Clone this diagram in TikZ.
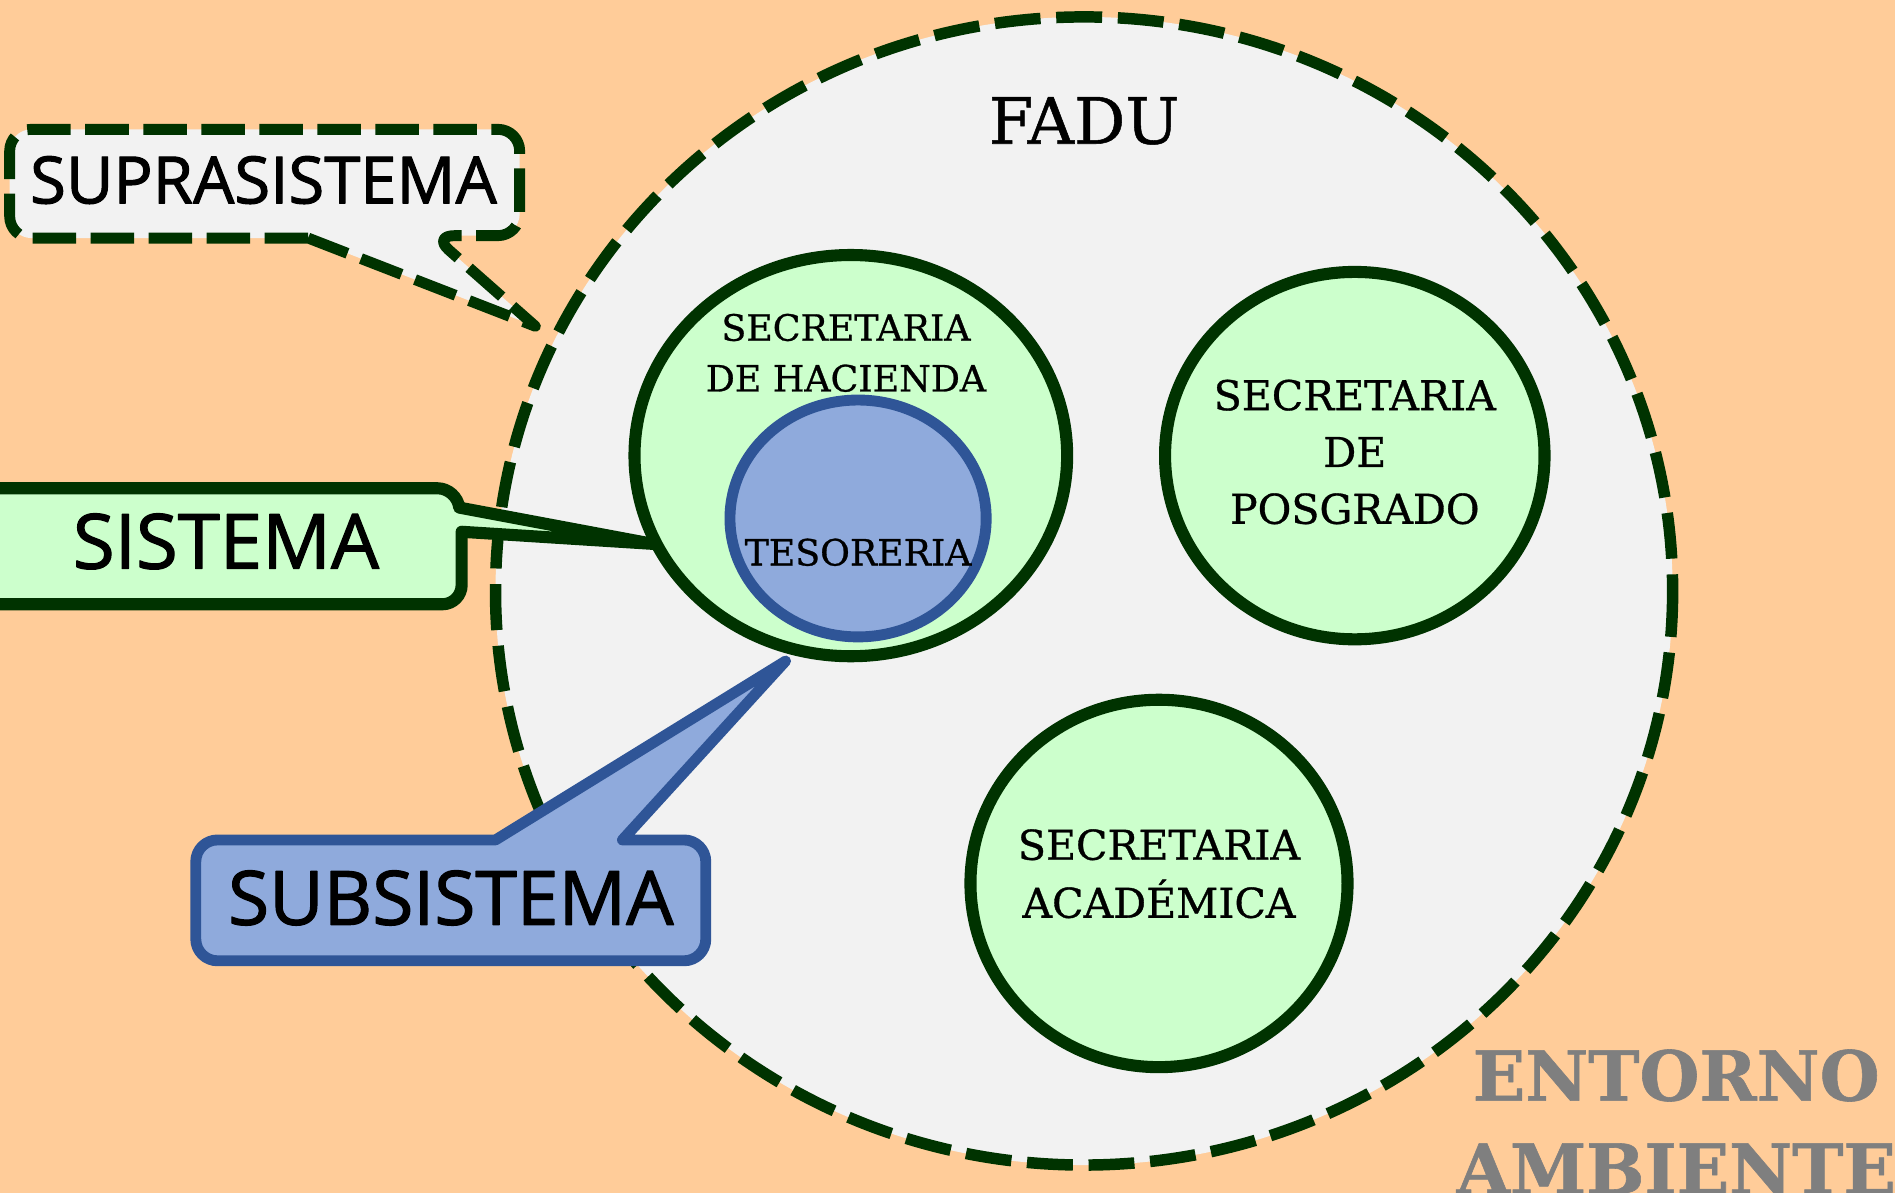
\documentclass[tikz,border=0pt]{standalone}
\usepackage{fontspec}
\setmainfont{DejaVu Serif}
\newfontfamily\slabfont[FakeBold=0.8]{DejaVu Serif}
\newfontfamily\calloutfont[FakeBold=1.6]{Open Sans}
\definecolor{bgpeach}{HTML}{FFCC99}
\definecolor{lightgray}{HTML}{F2F2F2}
\definecolor{palegreen}{HTML}{CCFFCC}
\definecolor{darkgreen}{HTML}{003300}
\definecolor{paleblue}{HTML}{8FAADC}
\definecolor{darkblue}{HTML}{2F5597}
\definecolor{envgray}{HTML}{7F7F7F}
\tikzset{
  dashline/.style={dash pattern=on 38pt off 13pt},
  greencircle/.style={draw=darkgreen, fill=palegreen, line width=10pt},
  bluecircle/.style={draw=darkblue, fill=paleblue, line width=9pt},
  calloutlabel/.style={font=\calloutfont\fontsize{#1}{#1}\selectfont, text=black, inner sep=0pt},
  slabtext/.style 2 args={font=\slabfont\fontsize{#1}{#2}\selectfont, text=black, align=center, inner sep=0pt},
}
\begin{document}
\begin{tikzpicture}[x=1pt,y=-1pt,line join=round,line cap=butt]
\useasboundingbox (0,0) rectangle (1568,987);
\fill[bgpeach] (0,0) rectangle (1568,987);

% FADU (suprasistema)
\draw[fill=lightgray, draw=darkgreen, line width=9.5pt, dashline] (897,489) ellipse [x radius=487, y radius=475];
\node[slabtext={53}{60}] (fadu) at (897,100) {FADU};

% Suprasistema callout
\draw[fill=lightgray, draw=darkgreen, line width=9pt, dash pattern=on 36pt off 12pt, rounded corners=18]
  (255,197) -- (8,197) -- (8,107) -- (430,107) -- (430,195) -- (358,195) [sharp corners] -- (443,270) -- cycle;
\node[calloutlabel=54] (supra) at (218,149) {SUPRASISTEMA};

% Secretaria de Hacienda (sistema)
\draw[greencircle] (704,377) ellipse [x radius=179, y radius=166];
\node[slabtext={30}{42}] (hacienda) at (700,292) {SECRETARIA\\DE HACIENDA};
\draw[bluecircle] (710,429) ellipse [x radius=106, y radius=98];
\node[slabtext={30}{42}] (tesoreria) at (710,457) {TESORERIA};

% Posgrado
\draw[greencircle] (1121,377) ellipse [x radius=157, y radius=152];
\node[slabtext={34}{47}] (posgrado) at (1121,374) {SECRETARIA\\DE\\POSGRADO};

% Academica
\draw[greencircle] (959,731) ellipse [x radius=156, y radius=152];
\node[slabtext={34}{48}] (academica) at (959,723) {SECRETARIA\\ACADÉMICA};

% Sistema callout
\draw[fill=palegreen, draw=darkgreen, line width=10pt, rounded corners=16]
  (382,440) -- (382,500) -- (-20,500) -- (-20,404) -- (378,404) [sharp corners] -- (380,420) -- (540,450) -- cycle;
\node[calloutlabel=63] (sistema) at (187,448) {SISTEMA};

% Subsistema callout
\draw[fill=paleblue, draw=darkblue, line width=9pt, rounded corners=18]
  (410,695) [sharp corners] -- (650,547) -- (515,695) [rounded corners=18] -- (584,695) -- (584,795) -- (162,795) -- (162,695) [sharp corners] -- cycle;
\node[calloutlabel=62] (subsistema) at (373,743) {SUBSISTEMA};

% Entorno
\node[font=\slabfont\bfseries\fontsize{57}{77}\selectfont, text=envgray, align=center, inner sep=0pt] (entorno) at (1387,928) {ENTORNO\\AMBIENTE};
\end{tikzpicture}
\end{document}
